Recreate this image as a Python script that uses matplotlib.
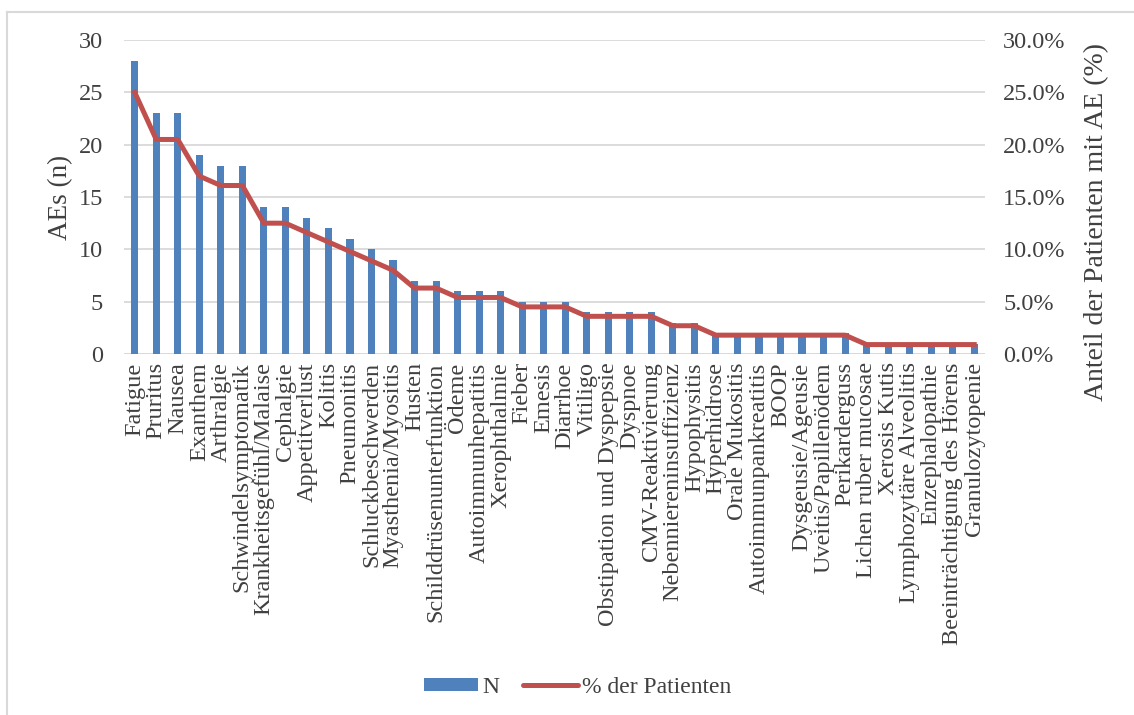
import matplotlib
matplotlib.use("Agg")
import matplotlib.pyplot as plt
from matplotlib.ticker import FuncFormatter, MultipleLocator
from matplotlib.lines import Line2D
from matplotlib.patches import Patch

categories = [
    "Fatigue", "Pruritus", "Nausea", "Exanthem", "Arthralgie",
    "Schwindelsymptomatik", "Krankheitsgefühl/Malaise", "Cephalgie",
    "Appetitverlust", "Kolitis", "Pneumonitis", "Schluckbeschwerden",
    "Myasthenia/Myositis", "Husten", "Schilddrüsenunterfunktion", "Ödeme",
    "Autoimmunhepatitis", "Xerophthalmie", "Fieber", "Emesis", "Diarrhoe",
    "Vitiligo", "Obstipation und Dyspepsie", "Dyspnoe", "CMV-Reaktivierung",
    "Nebenniereninsuffizienz", "Hypophysitis", "Hyperhidrose",
    "Orale Mukositis", "Autoimmunpankreatitis", "BOOP", "Dysgeusie/Ageusie",
    "Uveitis/Papillenödem", "Perikarderguss", "Lichen ruber mucosae",
    "Xerosis Kutis", "Lymphozytäre Alveolitis", "Enzephalopathie",
    "Beeinträchtigung des Hörens", "Granulozytopenie",
]

n_events = [28, 23, 23, 19, 18, 18, 14, 14, 13, 12, 11, 10, 9, 7, 7, 6, 6, 6,
            5, 5, 5, 4, 4, 4, 4, 3, 3, 2, 2, 2, 2, 2, 2, 2, 1, 1, 1, 1, 1, 1]

pct_patients = [25.0, 20.5, 20.5, 17.0, 16.1, 16.1, 12.5, 12.5, 11.6, 10.7,
                9.8, 8.9, 8.0, 6.3, 6.3, 5.4, 5.4, 5.4, 4.5, 4.5, 4.5, 3.6,
                3.6, 3.6, 3.6, 2.7, 2.7, 1.8, 1.8, 1.8, 1.8, 1.8, 1.8, 1.8,
                0.9, 0.9, 0.9, 0.9, 0.9, 0.9]

plt.rcParams["font.family"] = ["Liberation Serif", "DejaVu Serif"]
text_color = "#404040"
bar_color = "#4F81BD"
line_color = "#C0504D"
grid_color = "#D9D9D9"
tick_size = 17.5
label_size = 19.5

fig = plt.figure(figsize=(11.34, 7.15), dpi=100)
ax = fig.add_axes([0.1093, 0.5049, 0.7593, 0.4391])

x = list(range(len(categories)))
ax.bar(x, n_events, width=0.33, color=bar_color, zorder=2)
ax.set_xlim(-0.5, len(categories) - 0.5)
ax.set_ylim(0, 30)
ax.yaxis.set_major_locator(MultipleLocator(5))
ax.grid(axis="y", color=grid_color, linewidth=1.3, zorder=0)
ax.set_axisbelow(True)
for s in ax.spines.values():
    s.set_visible(False)
ax.axhline(0, color=grid_color, linewidth=1.3, zorder=1)
ax.tick_params(axis="both", length=0, labelsize=tick_size, colors=text_color)
ax.tick_params(axis="y", pad=15)
ax.set_xticks(x)
ax.set_xticklabels(categories, rotation=90, fontsize=tick_size,
                   color=text_color)
ax.tick_params(axis="x", pad=6)
ax.set_ylabel("AEs (n)", fontsize=label_size, color=text_color, labelpad=4)

ax2 = ax.twinx()
ax2.plot(x, pct_patients, color=line_color, linewidth=3.6,
         solid_joinstyle="round", zorder=3)
ax2.set_ylim(0, 30)
ax2.yaxis.set_major_locator(MultipleLocator(5))
ax2.yaxis.set_major_formatter(FuncFormatter(lambda v, p: f"{v:.1f}%"))
for s in ax2.spines.values():
    s.set_visible(False)
ax2.tick_params(axis="y", length=0, labelsize=tick_size, colors=text_color,
                pad=13)
ax2.set_ylabel("Anteil der Patienten mit AE (%)", fontsize=20,
               color=text_color)
ax2.yaxis.set_label_coords(1.115, 0.42)

handles = [Patch(facecolor=bar_color, edgecolor="none"),
           Line2D([0], [0], color=line_color, linewidth=3.6,
                  solid_capstyle="round")]
fig.legend(handles, ["N", "% der Patienten"], loc="center",
           bbox_to_anchor=(0.5095, 0.039), ncol=2, frameon=False,
           fontsize=17, labelcolor=text_color, handlelength=2.3,
           handleheight=0.5, columnspacing=1.0, handletextpad=0.2)

# chart area frame
fig.add_artist(Line2D([7 / 1134, 7 / 1134], [0, 1 - 12 / 715],
                      transform=fig.transFigure, color="#D9D9D9", linewidth=1.5))
fig.add_artist(Line2D([7 / 1134, 1], [1 - 12 / 715, 1 - 12 / 715],
                      transform=fig.transFigure, color="#D9D9D9", linewidth=1.5))

fig.savefig("out.png", dpi=100)
